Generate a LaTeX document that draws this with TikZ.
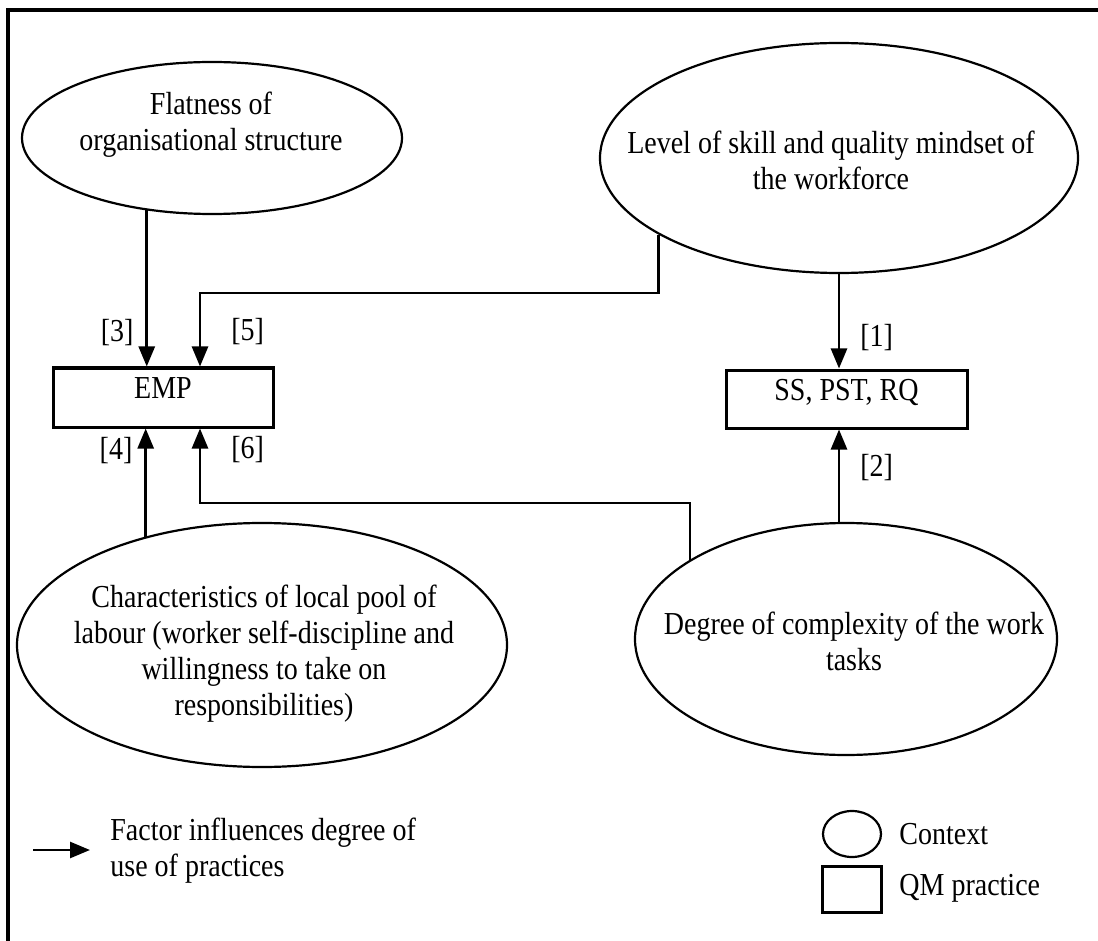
\documentclass[tikz,border=0pt]{standalone}
\usepackage{fontspec}
\setmainfont[FakeStretch=0.875]{Liberation Serif}
\usetikzlibrary{shapes.geometric,arrows.meta,positioning}

\begin{document}
\begin{tikzpicture}[x=0.5pt,y=-0.5pt,
    every node/.style={font=\fontsize{16}{18}\selectfont},
    ctx/.style={draw,ellipse,line width=1.1pt,inner sep=0pt},
    qm/.style={draw,rectangle,line width=1.5pt,inner sep=0pt,text depth=9pt},
    ctxtext/.style={align=center,inner sep=0pt},
    flow/.style={line width=1.3pt,-{Triangle[length=10pt,width=8pt]}},
    num/.style={inner sep=0pt}]

    \useasboundingbox (0,0) rectangle (1098,941);

    % frame
    \draw [line width=1.6pt] (1098,10) -- (8,10) -- (8,941);

    % context
    \node [ctx,minimum width=190pt,minimum height=76pt] (flat) at (212,138) {};
    \node [ctx,minimum width=239pt,minimum height=115pt] (skill) at (839,158) {};
    \node [ctx,minimum width=245pt,minimum height=122pt] (pool) at (262,645) {};
    \node [ctx,minimum width=211pt,minimum height=116pt] (task) at (846,639) {};

    \node [ctxtext] (flattxt) at (211,125) {Flatness of\\organisational structure};
    \node [ctxtext] (skilltxt) at (831,160) {Level of skill and quality mindset of\\the workforce};
    \node [ctxtext] (pooltxt) at (264,654) {Characteristics of local pool of\\labour (worker self-discipline and\\willingness to take on\\responsibilities)};
    \node [ctxtext] (tasktxt) at (854,641) {Degree of complexity of the work\\tasks};

    % practices
    \node [qm,minimum width=110pt,minimum height=29.5pt] (emp) at (163,397.5) {EMP};
    \node [qm,minimum width=120.5pt,minimum height=29pt] (ss) at (846.5,399) {SS, PST, RQ};

    % into SS, PST, RQ
    \draw [flow] (skill.south) -- (skill.south |- ss.north) node [num,right=10pt,pos=0.67] (l1) {[1]};
    \draw [flow] (task.north -| skill.south) -- (skill.south |- ss.south) node [num,right=10pt,pos=0.59] (l2) {[2]};

    % into EMP
    \coordinate (k5) at (200,293);
    \coordinate (k6) at (200,503);

    \draw [flow] (flat.228) -- (flat.228 |- emp.north) node [num,left=6pt,pos=0.78] (l3) {[3]};
    \draw [flow] (skill.203) |- (k5) -- (k5 |- emp.north) node [num,right=15pt,pos=0.53] (l5) {[5]};
    \draw [flow] (pool.137) -- (pool.137 |- emp.south) node [num,left=6pt,pos=0.8] (l4) {[4]};
    \draw [flow] (task.153) |- (k6) -- (k6 |- emp.south) node [num,right=15pt,pos=0.72] (l6) {[6]};

    % legend
    \coordinate (legA) at (33,850);
    \coordinate (legB) at (90,850);
    \draw [flow] (legA) -- (legB);
    \node [align=left,anchor=west,inner sep=0pt] (legflow) at (110,851) {Factor influences degree of\\use of practices};

    \node [ctx,minimum width=29pt,minimum height=23pt] (legctx) at (852,834) {};
    \node [anchor=west,inner sep=0pt] (legctxtxt) at (899,834) {Context};
    \node [qm,minimum width=29.5pt,minimum height=23pt] (legqm) at (852,889) {};
    \node [anchor=west,inner sep=0pt] (legqmtxt) at (899,888) {QM practice};

\end{tikzpicture}
\end{document}
